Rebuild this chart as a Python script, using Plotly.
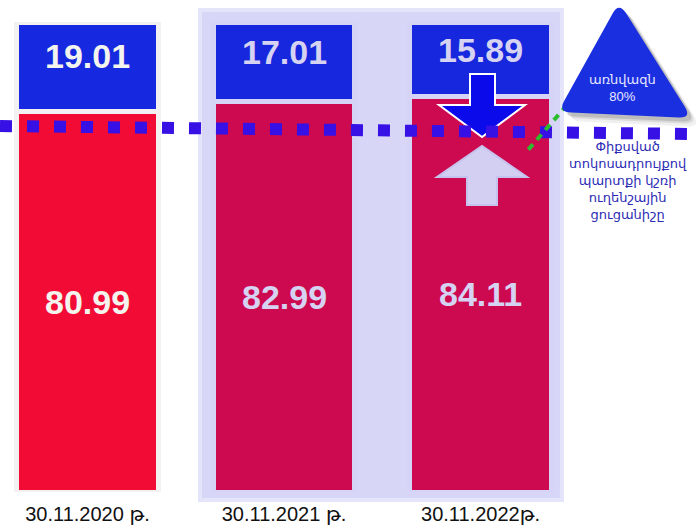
import plotly.graph_objects as go

# ---- data ----
categories = ["30.11.2020 թ.", "30.11.2021 թ.", "30.11.2022թ."]
fixed_rate = [80.99, 82.99, 84.11]
floating_rate = [19.01, 17.01, 15.89]
target_label = "առնվազն<br>80%"
target_note = "Փիքսված<br>տոկոսադրույքով<br>պարտքի կշռի<br>ուղենշային<br>ցուցանիշը"

# ---- geometry helpers (pixel -> paper) ----
W, H = 697, 529
MT, MB = 22, 37
PT, PB = MT, H - MB
PH = PB - PT


def px(x):
    return x / W


def py(y):
    return (PB - y) / PH


def path(points, close=True):
    s = "M " + " L ".join(f"{px(x):.5f},{py(y):.5f}" for x, y in points)
    return s + (" Z" if close else "")


def rounded(points, r=0.1):
    n = len(points)
    segs = []
    for i in range(n):
        p0 = points[i - 1]
        p1 = points[i]
        p2 = points[(i + 1) % n]
        a = (p1[0] + (p0[0] - p1[0]) * r, p1[1] + (p0[1] - p1[1]) * r)
        b = (p1[0] + (p2[0] - p1[0]) * r, p1[1] + (p2[1] - p1[1]) * r)
        segs.append((a, p1, b))
    s = f"M {px(segs[0][0][0]):.5f},{py(segs[0][0][1]):.5f}"
    for i, (a, c, b) in enumerate(segs):
        if i > 0:
            s += f" L {px(a[0]):.5f},{py(a[1]):.5f}"
        s += f" Q {px(c[0]):.5f},{py(c[1]):.5f} {px(b[0]):.5f},{py(b[1]):.5f}"
    return s + " Z"


xs = list(range(len(categories)))
step = 196.5
center0 = 87.5
xrange_ = [-center0 / step, (W - center0) / step]

red_colors = ["#F20C35", "#CD0A50", "#CD0A50"]
blue_colors = ["#1628E0", "#1727DE", "#1727DE"]
gap_colors = ["#F3F1F1", "#D6D4F6", "#D6D4F6"]
label_colors = ["#F4F4EE", "#D6D2F2", "#D6D2F2"]

fig = go.Figure()
fig.add_trace(go.Bar(x=xs, y=fixed_rate, width=0.72,
                     marker=dict(color=red_colors, line=dict(color=gap_colors, width=5)),
                     hoverinfo="skip", showlegend=False))
fig.add_trace(go.Bar(x=xs, y=floating_rate, width=0.72,
                     marker=dict(color=blue_colors, line=dict(color=gap_colors, width=5)),
                     hoverinfo="skip", showlegend=False))

NUMFONT = "Liberation Sans, Arial"
TXTFONT = "Arial, Liberation Sans, DejaVu Sans"
annotations = []
for i in xs:
    annotations.append(dict(x=i, y=fixed_rate[i] / 2, text=f"<b>{fixed_rate[i]:.2f}</b>", showarrow=False,
                            font=dict(family=NUMFONT, size=34, color=label_colors[i]),
                            xref="x", yref="y", xanchor="center", yanchor="middle"))
    annotations.append(dict(x=i, y=fixed_rate[i] + floating_rate[i] * 0.62, text=f"<b>{floating_rate[i]:.2f}</b>",
                            showarrow=False,
                            font=dict(family=NUMFONT, size=34, color=label_colors[i]),
                            xref="x", yref="y", xanchor="center", yanchor="middle"))

annotations.append(dict(x=px(622), y=py(88), xref="paper", yref="paper", text=target_label,
                        xanchor="center", yanchor="middle",
                        showarrow=False, font=dict(family=TXTFONT, size=13, color="#E8E8FF")))
annotations.append(dict(x=px(628), y=py(180), xref="paper", yref="paper", text=target_note,
                        xanchor="center", yanchor="middle",
                        showarrow=False, font=dict(family=TXTFONT, size=13, color="#2B2BB5")))

shapes = []
shapes.append(dict(type="rect", xref="paper", yref="paper", x0=px(200), x1=px(562), y0=py(500), y1=py(10),
                   fillcolor="#D8D6F7", line=dict(color="#E4E4FB", width=4), layer="below"))
shapes.append(dict(type="path", xref="paper", yref="paper",
                   path=path([(467, 205), (467, 177), (437, 177), (482, 146), (527, 177), (497, 177), (497, 205)]),
                   fillcolor="#D3CFF2", line=dict(color="#C6C2EE", width=2)))
shapes.append(dict(type="path", xref="paper", yref="paper",
                   path=path([(470, 74), (495, 74), (495, 105), (525, 105), (482, 137), (439, 105), (470, 105)]),
                   fillcolor="#0A0AEB", line=dict(color="#FFFFFF", width=2)))
shapes.append(dict(type="line", xref="paper", yref="paper", x0=px(0), y0=py(126), x1=px(697), y1=py(134),
                   line=dict(color="#3710E6", width=12, dash="12px,15px")))
shapes.append(dict(type="line", xref="paper", yref="paper", x0=px(567), y0=py(105), x1=px(528), y1=py(150),
                   line=dict(color="#2DBE2D", width=4, dash="7px,6px")))
tri = [(619, 2), (692, 118), (558, 112)]
for off, op in [(9, 0.08), (6, 0.12), (4, 0.18)]:
    shapes.append(dict(type="path", xref="paper", yref="paper",
                       path=rounded([(x + off, y + off) for x, y in tri]),
                       fillcolor=f"rgba(60,60,60,{op})", line=dict(width=0)))
shapes.append(dict(type="path", xref="paper", yref="paper", path=rounded(tri),
                   fillcolor="#1A30E0", line=dict(width=0)))

fig.update_layout(
    width=W, height=H,
    margin=dict(l=0, r=0, t=MT, b=MB, autoexpand=False),
    barmode="stack",
    paper_bgcolor="white",
    plot_bgcolor="rgba(0,0,0,0)",
    xaxis=dict(range=xrange_, tickvals=xs, ticktext=categories, showgrid=False, zeroline=False,
               showline=False, ticks="", ticklabelstandoff=8, automargin=False,
               tickfont=dict(family=TXTFONT, size=20, color="#111111"),
               fixedrange=True),
    yaxis=dict(range=[0, 100], visible=False, fixedrange=True),
    annotations=annotations,
    shapes=shapes,
)

fig.write_html("out.html", config={"displayModeBar": False},
               post_script="document.body.style.margin='0px';document.body.style.overflow='hidden';")
